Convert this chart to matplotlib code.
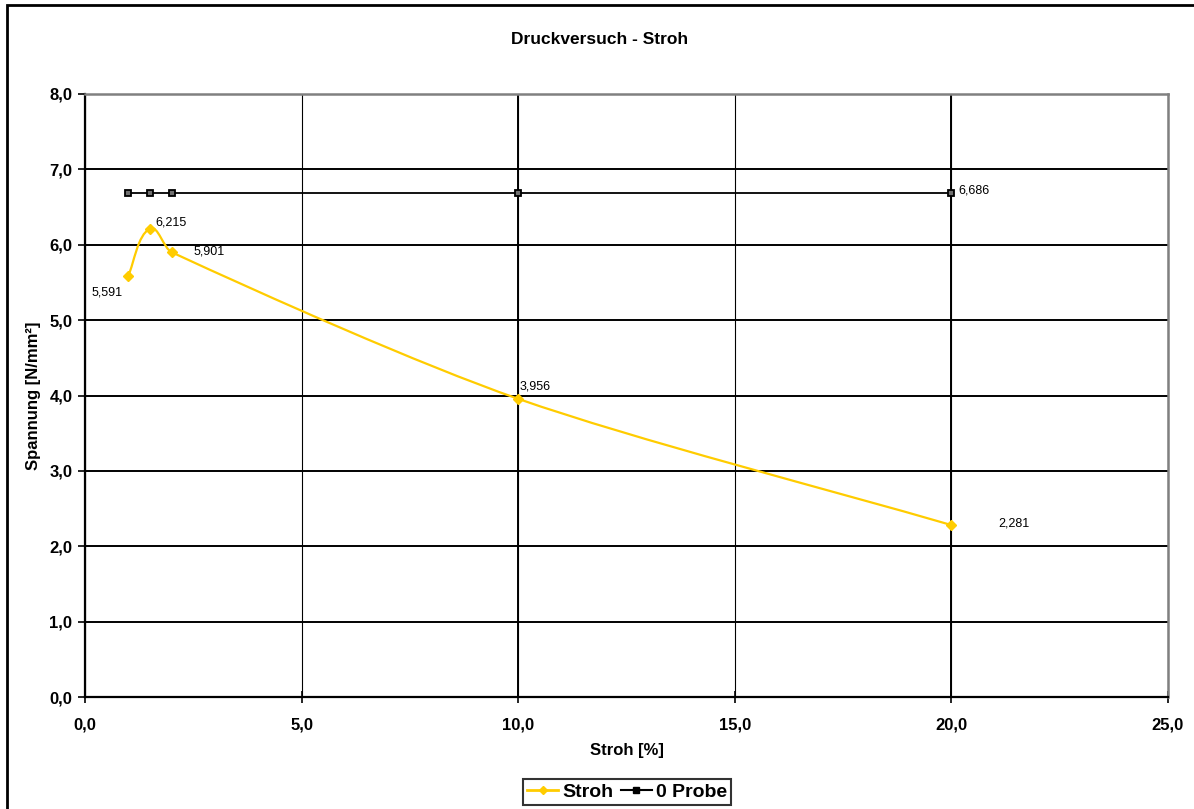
import numpy as np
import matplotlib.pyplot as plt
from matplotlib.path import Path
from matplotlib.patches import PathPatch, Rectangle
from matplotlib.lines import Line2D
from matplotlib.ticker import FuncFormatter, MultipleLocator

plt.rcParams['font.family'] = ['Liberation Sans', 'DejaVu Sans']

# Messwerte
stroh_x = [1.0, 1.5, 2.0, 10.0, 20.0]
stroh_y = [5.591, 6.215, 5.901, 3.956, 2.281]
probe_x = [1.0, 1.5, 2.0, 10.0, 20.0]
probe_y = [6.686, 6.686, 6.686, 6.686, 6.686]
stroh_labels = ["5,591", "6,215", "5,901", "3,956", "2,281"]
probe_label = "6,686"

gold = "#FFCC00"

W, H = 1194, 809
fig = plt.figure(figsize=(W / 100, H / 100), dpi=100)
ax = fig.add_axes([85 / W, 1 - 697 / H, 1083 / W, 603 / H])

# Rahmen um das Diagramm
fig.patches.append(Rectangle((7 / W, -0.05), 1.2, 1.05 - 5 / H,
                             transform=fig.transFigure, fill=False,
                             edgecolor="black", linewidth=2.0))

ax.set_xlim(0, 25)
ax.set_ylim(0, 8)
ax.xaxis.set_major_locator(MultipleLocator(5))
ax.yaxis.set_major_locator(MultipleLocator(1))
fmt = FuncFormatter(lambda v, p: f"{v:.1f}".replace(".", ","))
ax.xaxis.set_major_formatter(fmt)
ax.yaxis.set_major_formatter(fmt)

ax.grid(True, axis="y", color="black", linewidth=1.4)
ax.grid(True, axis="x", color="black", linewidth=0.8)
for xv in (10, 20):
    ax.axvline(xv, color="black", linewidth=1.4, zorder=1)
ax.set_axisbelow(True)

for side in ("top", "right"):
    ax.spines[side].set_color("#808080")
    ax.spines[side].set_linewidth(1.8)
for side in ("left", "bottom"):
    ax.spines[side].set_color("black")
    ax.spines[side].set_linewidth(1.6)

ax.tick_params(axis="y", direction="out", length=5, width=1.2, pad=4)
ax.tick_params(axis="x", direction="inout", length=8, width=1.2, pad=11)
for lab in ax.get_xticklabels() + ax.get_yticklabels():
    lab.set_fontweight("bold")
    lab.set_fontsize(12)

# geglaettete Linie: Bezier-Segmente durch die Messpunkte,
# Tangenten in Pixelkoordinaten bestimmt
sx, sy = 1083 / 25, 603 / 8
pts = np.column_stack([stroh_x, stroh_y]) * [sx, sy]
n = len(pts)
tang = []
for i in range(n):
    a = pts[max(i - 1, 0)]
    b = pts[min(i + 1, n - 1)]
    d = b - a
    tang.append(d / np.hypot(*d))
verts = [pts[0]]
codes = [Path.MOVETO]
for i in range(n - 1):
    seg = np.hypot(*(pts[i + 1] - pts[i]))
    verts += [pts[i] + tang[i] * seg * 0.28,
              pts[i + 1] - tang[i + 1] * seg * 0.28,
              pts[i + 1]]
    codes += [Path.CURVE4] * 3
verts = np.array(verts) / [sx, sy]
ax.add_patch(PathPatch(Path(verts, codes), facecolor="none",
                       edgecolor=gold, linewidth=1.6, zorder=3))
ax.plot(stroh_x, stroh_y, linestyle="none", marker="D", markersize=5,
        color=gold, zorder=4)

ax.plot(probe_x, probe_y, color="black", linewidth=1.3, marker="s",
        markersize=5, markerfacecolor="#707070", markeredgecolor="black",
        markeredgewidth=1.3, zorder=4)

# Datenbeschriftungen
offsets = [(-37, -17), (5, 6), (22, 1), (1, 12), (47, 2)]
for x, y, t, (dx, dy) in zip(stroh_x, stroh_y, stroh_labels, offsets):
    ax.annotate(t, (x, y), xytext=(dx, dy), textcoords="offset pixels",
                fontsize=9, ha="left", va="center")
ax.annotate(probe_label, (probe_x[-1], probe_y[-1]), xytext=(7, 3),
            textcoords="offset pixels", fontsize=9, ha="left", va="center")

fig.text(600 / W, 1 - 40 / H, "Druckversuch - Stroh", ha="center",
         va="center", fontsize=12.5, fontweight="bold")
ax.set_xlabel("Stroh [%]", fontsize=12, fontweight="bold", labelpad=7)
ax.set_ylabel("Spannung [N/mm²]", fontsize=12, fontweight="bold", labelpad=6)

handles = [
    Line2D([], [], color=gold, linewidth=2, marker="D", markersize=4),
    Line2D([], [], color="black", linewidth=1.5, marker="s", markersize=4),
]
leg = fig.legend(handles, ["Stroh", "0 Probe"], loc="center",
                 bbox_to_anchor=(627 / W, 1 - 792 / H), ncol=2,
                 prop={"weight": "bold", "size": 14}, frameon=True,
                 fancybox=False, handlelength=1.6, handletextpad=0.2,
                 columnspacing=0.4, borderpad=0.2, borderaxespad=0)
leg.get_frame().set_edgecolor("black")
leg.get_frame().set_linewidth(1.5)

fig.savefig("out.png", dpi=100)
